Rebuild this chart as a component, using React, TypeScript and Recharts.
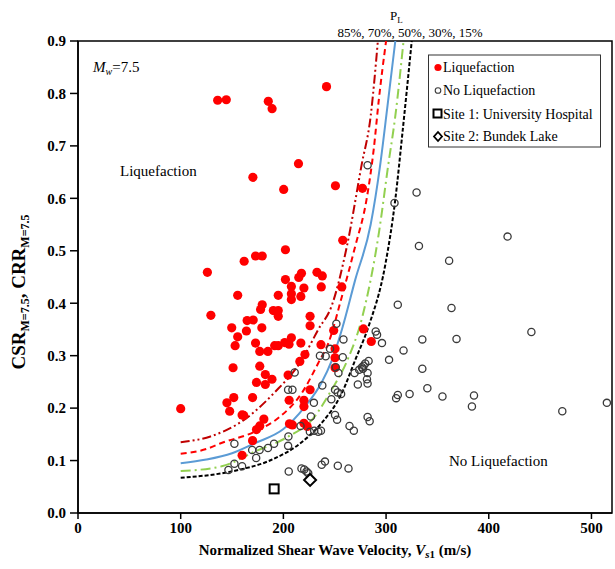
import React from "react";
import {
  ComposedChart,
  Scatter,
  Line,
  XAxis,
  YAxis,
  ReferenceArea,
  Customized,
} from "recharts";

// Vs1 (m/s), CSR pairs
const liquefaction: [number, number][] = [
  [100, 0.199], [126, 0.459], [129.4, 0.377], [136, 0.787], [144.4, 0.788],
  [145, 0.21], [147.7, 0.194], [149.7, 0.353], [151, 0.277], [151.7, 0.22],
  [153, 0.319], [155.5, 0.415], [155.5, 0.336], [159.8, 0.187], [161.4, 0.186],
  [159.8, 0.11], [161.8, 0.48], [164.7, 0.367], [164, 0.347], [170.3, 0.64],
  [170.6, 0.368], [170, 0.22], [170, 0.138], [172.9, 0.49], [172.9, 0.324],
  [173.8, 0.249], [173.8, 0.159], [177, 0.308], [177, 0.28], [177, 0.166],
  [177.8, 0.388], [179, 0.353], [179.4, 0.49], [179.4, 0.397], [181, 0.179],
  [182.4, 0.264], [182.4, 0.245], [184.9, 0.308], [185.3, 0.785], [188.9, 0.255],
  [189, 0.771], [190.2, 0.386], [191.5, 0.319], [195, 0.386], [195, 0.375],
  [195, 0.415], [195, 0.319], [200.3, 0.617], [201.3, 0.325], [202, 0.502],
  [202, 0.445], [204.6, 0.263], [205.5, 0.322], [205.6, 0.215], [205.9, 0.17],
  [207.8, 0.432], [207.8, 0.418], [207.8, 0.407], [207.8, 0.334], [208.8, 0.168],
  [214.7, 0.666], [215, 0.449], [216, 0.289], [217, 0.413], [217, 0.324],
  [217.6, 0.457], [220, 0.429], [220, 0.215], [220, 0.203], [220, 0.171],
  [221, 0.302], [223.2, 0.165], [226, 0.375], [226, 0.357], [226, 0.235],
  [232.7, 0.459], [236.6, 0.321], [236.9, 0.431], [237.9, 0.452], [242, 0.813],
  [249, 0.348], [250.3, 0.313], [250.3, 0.296], [250.3, 0.277], [250.7, 0.624],
  [256.9, 0.431], [257.8, 0.52], [277, 0.619], [278, 0.351], [285.6, 0.327],
];

const noLiquefaction: [number, number][] = [
  [146.5, 0.082], [152.3, 0.094], [152.3, 0.132], [159.8, 0.089], [169.6, 0.12],
  [173.5, 0.105], [176.8, 0.12], [185, 0.124], [190.9, 0.132], [204.6, 0.128],
  [204.9, 0.146], [205.2, 0.079], [204.6, 0.235], [208.8, 0.235], [211, 0.268],
  [216.7, 0.166], [217.6, 0.085], [220.3, 0.083], [222.5, 0.079], [224.2, 0.076],
  [226.8, 0.184], [229.7, 0.21], [230, 0.157], [234, 0.155], [236.6, 0.157],
  [225.8, 0.155], [235.6, 0.3], [237.3, 0.092], [240.5, 0.098], [237.9, 0.243],
  [241.2, 0.299], [245.4, 0.313], [246.7, 0.217], [250.3, 0.187], [252.3, 0.178],
  [250.3, 0.235], [252.9, 0.23], [253, 0.09], [251, 0.278], [251.6, 0.361],
  [253.6, 0.267], [256.2, 0.227], [257.8, 0.297], [258.5, 0.331], [263.4, 0.085],
  [264.4, 0.166], [268.6, 0.157], [269.3, 0.267], [272.5, 0.245], [273.8, 0.273],
  [276.5, 0.278], [277.5, 0.275], [278.1, 0.281], [279.7, 0.285], [282, 0.267],
  [282, 0.247], [281.4, 0.255], [282, 0.183], [284, 0.175], [283, 0.29],
  [282, 0.663], [289.9, 0.346], [291.2, 0.34], [296, 0.324], [302.9, 0.292],
  [308.2, 0.591], [309.8, 0.219], [311.4, 0.225], [311.4, 0.397], [317, 0.31],
  [322.9, 0.227], [329.7, 0.611], [332, 0.509], [335.3, 0.331], [335.3, 0.275],
  [340.2, 0.238], [354.9, 0.222], [361.4, 0.481], [363.7, 0.391], [368.6, 0.332],
  [383.6, 0.203], [385.6, 0.224], [418.3, 0.527], [441.5, 0.345], [471.6, 0.194],
  [515, 0.21],
];

const site1: [number, number][] = [[191, 0.046]];
const site2: [number, number][] = [[226, 0.063]];

// probability curves P_L (CRR vs Vs1)
const pl85: [number, number][] = [
  [100, 0.135], [129, 0.146], [162, 0.178], [191, 0.229], [218, 0.292],
  [234, 0.35], [247, 0.395], [262, 0.51], [276, 0.662], [285, 0.757], [292, 0.9],
];
const pl70: [number, number][] = [
  [100, 0.113], [125, 0.122], [139, 0.133], [172, 0.155], [195, 0.181],
  [218, 0.229], [234, 0.286], [244, 0.325], [257, 0.413], [270, 0.509],
  [281, 0.598], [288, 0.694], [293, 0.789], [300, 0.9],
];
const pl50: [number, number][] = [
  [100, 0.095], [125, 0.102], [150, 0.114], [172, 0.133], [200, 0.16],
  [221, 0.203], [237, 0.248], [247, 0.29], [257, 0.35], [270, 0.445],
  [285, 0.55], [294, 0.66], [301, 0.77], [309, 0.9],
];
const pl30: [number, number][] = [
  [100, 0.08], [140, 0.089], [172, 0.117], [205, 0.146], [228, 0.178],
  [247, 0.235], [262, 0.29], [277, 0.375], [293, 0.534], [302, 0.662],
  [309, 0.757], [317, 0.9],
];
const pl15: [number, number][] = [
  [100, 0.067], [156, 0.082], [188, 0.101], [221, 0.14], [237, 0.171],
  [257, 0.229], [270, 0.292], [283, 0.356], [299, 0.471], [309, 0.598],
  [316, 0.726], [325, 0.9],
];

const xTicks = [0, 100, 200, 300, 400, 500];
const yTicks = [0, 0.1, 0.2, 0.3, 0.4, 0.5, 0.6, 0.7, 0.8, 0.9];

const toXY = (pts: [number, number][]) => pts.map(([x, y]) => ({ x, y }));

const FONT = "'Liberation Serif', 'Times New Roman', serif";

const RedDot = (p: any) => <circle cx={p.cx} cy={p.cy} r={4.6} fill="#FF0000" />;
const OpenDot = (p: any) => (
  <circle cx={p.cx} cy={p.cy} r={3.6} fill="none" stroke="#3a3a3a" strokeWidth={1.3} />
);
const SquareMark = (p: any) => (
  <rect x={p.cx - 4.5} y={p.cy - 4.5} width={9} height={9} fill="#fff" stroke="#000" strokeWidth={2} />
);
const DiamondMark = (p: any) => (
  <path
    d={`M${p.cx},${p.cy - 6} L${p.cx + 6},${p.cy} L${p.cx},${p.cy + 6} L${p.cx - 6},${p.cy} Z`}
    fill="#fff"
    stroke="#000"
    strokeWidth={2}
  />
);

const Annotations = () => (
  <g fontFamily={FONT} fill="#000">
    <text x={93} y={72} fontSize={15}>
      <tspan fontStyle="italic">M</tspan>
      <tspan fontSize={10} dy={3} fontStyle="italic">w</tspan>
      <tspan dy={-3}>=7.5</tspan>
    </text>
    <text x={120} y={176} fontSize={15}>Liquefaction</text>
    <text x={449} y={466} fontSize={15}>No Liquefaction</text>
    <text x={390} y={20} fontSize={13}>
      P<tspan fontSize={9} dy={3}>L</tspan>
    </text>
    <text x={410} y={37} fontSize={13} textAnchor="middle">85%, 70%, 50%, 30%, 15%</text>

    {/* legend */}
    <rect x={428.5} y={55} width={172} height={92} fill="#fff" stroke="#333" strokeWidth={1} />
    <circle cx={438} cy={67.5} r={3.6} fill="#FF0000" />
    <text x={443} y={72} fontSize={14}>Liquefaction</text>
    <circle cx={438} cy={90.5} r={2.8} fill="none" stroke="#3a3a3a" strokeWidth={1.1} />
    <text x={443} y={95} fontSize={14}>No Liquefaction</text>
    <rect x={433.5} y={109.5} width={8} height={8} fill="none" stroke="#000" strokeWidth={2} />
    <text x={443} y={118.5} fontSize={14}>Site 1: University Hospital</text>
    <path d="M438,132 L442,136.5 L438,141 L434,136.5 Z" fill="none" stroke="#000" strokeWidth={1.8} />
    <text x={443} y={141} fontSize={14}>Site 2: Bundek Lake</text>

    {/* axis titles */}
    <text x={335} y={555} fontSize={15} fontWeight="bold" textAnchor="middle">
      Normalized Shear Wave Velocity,{" "}
      <tspan fontStyle="italic">V</tspan>
      <tspan fontSize={11} dy={3} fontStyle="italic">s</tspan>
      <tspan fontSize={11}>1</tspan>
      <tspan dy={-3}> (m/s)</tspan>
    </text>
    <text
      transform="translate(25,292) rotate(-90)"
      fontSize={19}
      fontWeight="bold"
      textAnchor="middle"
    >
      CSR<tspan fontSize={12} dy={4}>M=7.5</tspan>
      <tspan dy={-4}>, CRR</tspan>
      <tspan fontSize={12} dy={4}>M=7.5</tspan>
    </text>
  </g>
);

export default function App() {
  const tickStyle = { fontFamily: FONT, fontSize: 15, fontWeight: "bold", fill: "#000" };
  return (
    <div style={{ position: "absolute", left: 0, top: 0, background: "#fff" }}>
      <ComposedChart width={615} height={569} margin={{ top: 41, right: 3, bottom: 0, left: 0 }}>
        <XAxis
          type="number"
          dataKey="x"
          domain={[0, 520]}
          ticks={xTicks}
          height={56}
          tick={tickStyle}
          tickSize={6}
          tickMargin={3}
          axisLine={{ stroke: "#000", strokeWidth: 1.5 }}
          tickLine={{ stroke: "#000", strokeWidth: 1.5 }}
          allowDataOverflow
        />
        <YAxis
          type="number"
          dataKey="y"
          domain={[0, 0.9]}
          ticks={yTicks}
          width={78}
          tick={tickStyle}
          tickFormatter={(v: number) => v.toFixed(1)}
          tickSize={8}
          tickMargin={4}
          axisLine={{ stroke: "#000", strokeWidth: 1.5 }}
          tickLine={{ stroke: "#000", strokeWidth: 1.5 }}
          allowDataOverflow
        />
        <ReferenceArea x1={0} x2={520} y1={0} y2={0.9} fill="none" stroke="#000" strokeWidth={1.5} />
        <Scatter data={toXY(liquefaction)} dataKey="y" shape={RedDot} isAnimationActive={false} />
        <Scatter data={toXY(noLiquefaction)} dataKey="y" shape={OpenDot} isAnimationActive={false} />
        <Scatter data={toXY(site1)} dataKey="y" shape={SquareMark} isAnimationActive={false} />
        <Scatter data={toXY(site2)} dataKey="y" shape={DiamondMark} isAnimationActive={false} />
        <Line data={toXY(pl85)} dataKey="y" type="monotone" dot={false} stroke="#C00000" strokeWidth={2}
          strokeDasharray="9 3 2 3 2 3" isAnimationActive={false} />
        <Line data={toXY(pl70)} dataKey="y" type="monotone" dot={false} stroke="#FF0000" strokeWidth={2}
          strokeDasharray="6 4" isAnimationActive={false} />
        <Line data={toXY(pl50)} dataKey="y" type="monotone" dot={false} stroke="#5B9BD5" strokeWidth={2}
          isAnimationActive={false} />
        <Line data={toXY(pl30)} dataKey="y" type="monotone" dot={false} stroke="#92D050" strokeWidth={2}
          strokeDasharray="10 4 2 4" isAnimationActive={false} />
        <Line data={toXY(pl15)} dataKey="y" type="monotone" dot={false} stroke="#000" strokeWidth={2}
          strokeDasharray="4 2" isAnimationActive={false} />
        <Customized component={Annotations} />
      </ComposedChart>
    </div>
  );
}
